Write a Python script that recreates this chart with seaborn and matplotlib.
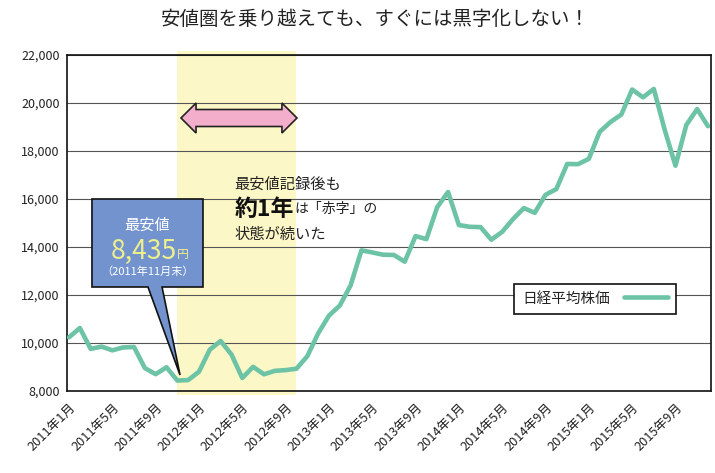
import numpy as np
import pandas as pd
import matplotlib
matplotlib.use('Agg')
import matplotlib.pyplot as plt
from matplotlib.patches import Polygon
import seaborn as sns

# Nikkei average, month-end close, Jan 2011 - Dec 2015
months = [f'{y}年{m}月' for y in range(2011, 2016) for m in range(1, 13)]
nikkei = [10237, 10624, 9755, 9849, 9693, 9816, 9833, 8955, 8700, 8988, 8435, 8455,
          8802, 9723, 10083, 9520, 8542, 9006, 8695, 8839, 8870, 8928, 9446, 10395,
          11138, 11559, 12397, 13860, 13774, 13677, 13668, 13388, 14455, 14327, 15662, 16291,
          14914, 14841, 14828, 14304, 14632, 15162, 15621, 15425, 16174, 16414, 17460, 17451,
          17674, 18798, 19207, 19520, 20563, 20236, 20585, 18890, 17388, 19083, 19747, 19034]
tick_step = 4
y_ticks = [8000, 10000, 12000, 14000, 16000, 18000, 20000, 22000]
highlight = (10, 21)  # 2011年11月 .. 2012年10月

df = pd.DataFrame({'idx': np.arange(len(months)), 'month': months, 'value': nikkei})

sns.set_theme(style='white')
plt.rcParams['font.family'] = ['Noto Sans CJK JP', 'DejaVu Sans']

fig = plt.figure(figsize=(7.15, 4.73), dpi=100)
ax = fig.add_axes([0.0935, 0.1734, 0.9009, 0.7103])

line_color = '#6dc3a5'
sns.lineplot(data=df, x='idx', y='value', ax=ax, color=line_color, linewidth=3.3,
             label='日経平均株価', zorder=3)

ax.axvspan(highlight[0], highlight[1], ymin=-0.012, ymax=1.012, color='#fcf7c6',
           zorder=0.2, clip_on=False, lw=0)

ax.set_xlim(-0.2, len(months) - 1 + 0.28)
ax.set_ylim(8000, 22000)
ax.set_yticks(y_ticks)
ax.set_yticklabels([f'{v:,}' for v in y_ticks], fontsize=9, color='#222222')
ax.set_xticks(df['idx'][::tick_step])
ax.set_xticklabels(df['month'][::tick_step], rotation=45, ha='right',
                   rotation_mode='anchor', fontsize=9.2, color='#222222')
ax.tick_params(axis='both', length=0, pad=5)
ax.tick_params(axis='x', pad=7)
ax.set_xlabel('')
ax.set_ylabel('')
ax.yaxis.grid(True, color='#555555', linewidth=0.8)
ax.set_axisbelow(True)
for s in ax.spines.values():
    s.set_color('#111111')
    s.set_linewidth(1.2)

fig.text(0.525, 0.958, '安値圏を乗り越えても、すぐには黒字化しない！', ha='center', va='center',
         fontsize=14, color='#222222')

# pink double arrow over highlighted period
ax0, ax1 = 10.34, 21.05
ay, bh, hh, hl = 19375, 354, 625, 1.39
arrow = Polygon([(ax0, ay), (ax0 + hl, ay + hh), (ax0 + hl, ay + bh), (ax1 - hl, ay + bh),
                 (ax1 - hl, ay + hh), (ax1, ay), (ax1 - hl, ay - hh), (ax1 - hl, ay - bh),
                 (ax0 + hl, ay - bh), (ax0 + hl, ay - hh)],
                closed=True, facecolor='#f2aecb', edgecolor='#222222', lw=1.2, zorder=4)
ax.add_patch(arrow)

# callout for the minimum
imin = int(np.argmin(nikkei))
vmin = nikkei[imin]
tip = (imin + 0.25, vmin + 230)
callout = Polygon([(2.12, 16000), (12.37, 16000), (12.37, 12333), (8.59, 12333), tip,
                   (7.29, 12333), (2.12, 12333)],
                  closed=True, facecolor='#7393cf', edgecolor='#111111', lw=1.2, zorder=5)
ax.add_patch(callout)
ax.text(7.25, 14917, '最安値', ha='center', va='center', color='white', fontsize=11, zorder=6)
t_val = ax.text(6.9, 13833, f'{vmin:,}', ha='center', va='center', color='#eef08c',
                fontsize=19, zorder=6)
ax.annotate('円', xy=(1, 0.12), xycoords=t_val, ha='left', va='bottom', color='#eef08c',
            fontsize=8.5, zorder=6)
ax.text(7.25, 12958, '（2011年11月末）', ha='center', va='center', color='white', fontsize=8,
        zorder=6)

# explanatory text
ax.text(15.3, 16625, '最安値記録後も', ha='left', va='center', fontsize=11, color='#222222', zorder=6)
t_big = ax.text(15.3, 15583, '約1年', ha='left', va='center', fontsize=16.5, fontweight='bold',
                color='#111111', zorder=6)
ax.annotate('は「赤字」の', xy=(1, 0.18), xycoords=t_big, ha='left', va='bottom', fontsize=10,
            color='#222222', zorder=6)
ax.text(15.3, 14542, '状態が続いた', ha='left', va='center', fontsize=11, color='#222222', zorder=6)

leg = ax.legend(loc='center', bbox_to_anchor=(0.82, 0.275), markerfirst=False, fontsize=10.5,
                frameon=True, fancybox=False, framealpha=1, edgecolor='#111111',
                handlelength=3.0, borderpad=0.55, handletextpad=1.0)
leg.get_frame().set_linewidth(1.2)
for t in leg.get_texts():
    t.set_color('#222222')

fig.savefig('out.png', dpi=100, facecolor='white')
